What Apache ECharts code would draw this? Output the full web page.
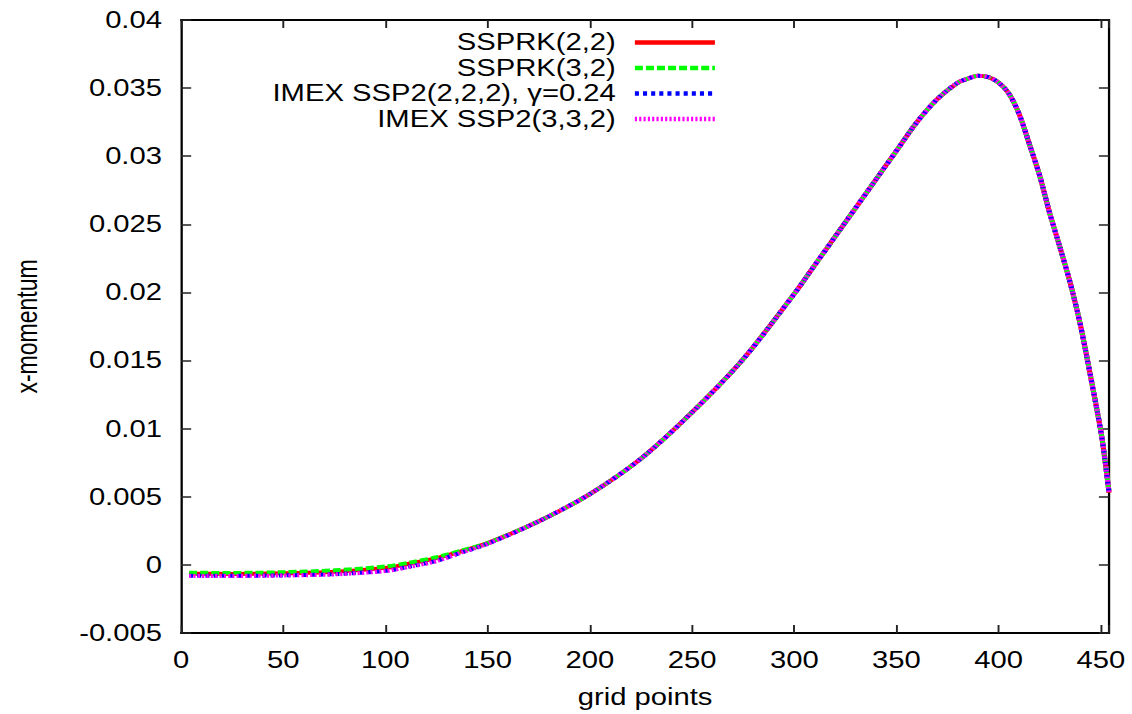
<!DOCTYPE html>
<html><head><meta charset="utf-8">
<script src="https://cdn.jsdelivr.net/npm/echarts@6/dist/echarts.min.js"></script>
<style>
html,body{margin:0;padding:0;background:#fff;overflow:hidden;width:1132px;height:714px}
#chart{width:891px;height:714px;transform:scaleX(1.2704);transform-origin:0 0;}
</style></head><body><div id="chart"></div>
<script>
const gridPoints = [4,25,50,75,100,112,125,137,150,175,200,225,250,275,300,310,320,330,340,350,360,370,380,385,390,395,400,405,410,415,420,425,430,435,440,445,450,452,454];
const ssprk22 = [-0.00065,-0.00066,-0.00062,-0.0005,-0.00022,0.0001,0.0005,0.001,0.0016,0.0032,0.0052,0.0078,0.0112,0.0151,0.0199,0.022,0.0241,0.0262,0.0283,0.0304,0.0325,0.0342,0.0354,0.0357,0.0359,0.0358,0.0354,0.0346,0.0331,0.0309,0.0286,0.0258,0.0233,0.0207,0.0176,0.0138,0.0098,0.0077,0.0053];
const ssprk32 = [-0.00058,-0.00059,-0.00054,-0.0004,-0.00012,0.00017,0.00056,0.00104,0.0016,0.0032,0.0052,0.0078,0.0112,0.0151,0.0199,0.022,0.0241,0.0262,0.0283,0.0304,0.0325,0.0342,0.0354,0.0357,0.0359,0.0358,0.0354,0.0346,0.0331,0.0309,0.0286,0.0258,0.0233,0.0207,0.0176,0.0138,0.0098,0.0077,0.0053];
const imex222 = [-0.0008,-0.0008,-0.00077,-0.00068,-0.00044,-0.00012,0.0003,0.0009,0.00155,0.0032,0.0052,0.0078,0.0112,0.0151,0.0199,0.022,0.0241,0.0262,0.0283,0.0304,0.0325,0.0342,0.0354,0.0357,0.0359,0.0358,0.0354,0.0346,0.0331,0.0309,0.0286,0.0258,0.0233,0.0207,0.0176,0.0138,0.0098,0.0077,0.0053];
const imex332 = [-0.00081,-0.00081,-0.00078,-0.0007,-0.00045,-0.00014,0.00028,0.0009,0.00155,0.0032,0.0052,0.0078,0.0112,0.0151,0.0199,0.022,0.0241,0.0262,0.0283,0.0304,0.0325,0.0342,0.0354,0.0357,0.0359,0.0358,0.0354,0.0346,0.0331,0.0309,0.0286,0.0258,0.0233,0.0207,0.0176,0.0138,0.0098,0.0077,0.0053];
const seriesNames = ['SSPRK(2,2)','SSPRK(3,2)','IMEX SSP2(2,2,2), \u03b3=0.24','IMEX SSP2(3,3,2)'];
const seriesColors = ['#ff0000','#00ff00','#0000ff','#ff00ff'];
const xTicks = {min:0, max:454, interval:50};
const yTicks = {min:-0.005, max:0.04, interval:0.005};

const FONT = '"Liberation Sans", Arial, sans-serif';
const chart = echarts.init(document.getElementById('chart'), null, {renderer:'svg'});
const pair = a => gridPoints.map((x,i)=>[x,a[i]]);
const dashes = [null,[6.3,2.4],[3.2,3.2],[1.7,1.7]];
const dataSets = [ssprk22, ssprk32, imex222, imex332];

const axisCommon = () => ({
  axisLine:{show:true,onZero:false,lineStyle:{color:'#000',width:1.8}},
  axisTick:{show:true,inside:true,length:8,lineStyle:{color:'#222',width:1.5}},
  splitLine:{show:false}
});

chart.setOption({
  animation:false,
  backgroundColor:'#fff',
  textStyle:{fontFamily:FONT},
  grid:{left:142.5,right:18,top:20,bottom:81,containLabel:false},
  legend:{
    orient:'vertical', align:'right', right:321, top:25.5,
    itemWidth:63, itemHeight:14, itemGap:1.5,
    itemStyle:{opacity:0},
    lineStyle:{width:4.5},
    textStyle:{fontFamily:FONT,fontSize:23,color:'#000',lineHeight:24,padding:[0,10,0,0]},
    data:seriesNames.map(n=>({name:n}))
  },
  xAxis:[
    Object.assign({type:'value',position:'bottom',min:xTicks.min,max:xTicks.max,interval:xTicks.interval,
      name:'grid points',nameLocation:'middle',nameGap:53,
      nameTextStyle:{fontFamily:FONT,fontSize:23,color:'#000'},
      axisLabel:{fontFamily:FONT,fontSize:23,color:'#000',margin:16,
        formatter:v=> (Math.abs(v % 50) < 1e-9 ? String(v) : '')}},axisCommon()),
    Object.assign({type:'value',position:'top',min:xTicks.min,max:xTicks.max,interval:xTicks.interval,
      axisLabel:{show:false}},axisCommon())
  ],
  yAxis:[
    Object.assign({type:'value',position:'left',min:yTicks.min,max:yTicks.max,interval:yTicks.interval,
      name:'x-momentum',nameLocation:'middle',nameGap:110,
      nameTextStyle:{fontFamily:FONT,fontSize:23,color:'#000'},
      axisLabel:{fontFamily:FONT,fontSize:23,color:'#000',margin:15,
        formatter:v=>String(parseFloat(v.toFixed(4)))}},axisCommon()),
    Object.assign({type:'value',position:'right',min:yTicks.min,max:yTicks.max,interval:yTicks.interval,
      axisLabel:{show:false}},axisCommon())
  ],
  series:dataSets.map((d,i)=>({
    name:seriesNames[i], type:'line', xAxisIndex:0, yAxisIndex:0,
    data:pair(d), showSymbol:false, symbol:'none', smooth:0.3,
    color:seriesColors[i],
    lineStyle:{color:seriesColors[i],width:4,type:dashes[i]||'solid',cap:'butt'},
    z:2+i
  }))
});
</script></body></html>
